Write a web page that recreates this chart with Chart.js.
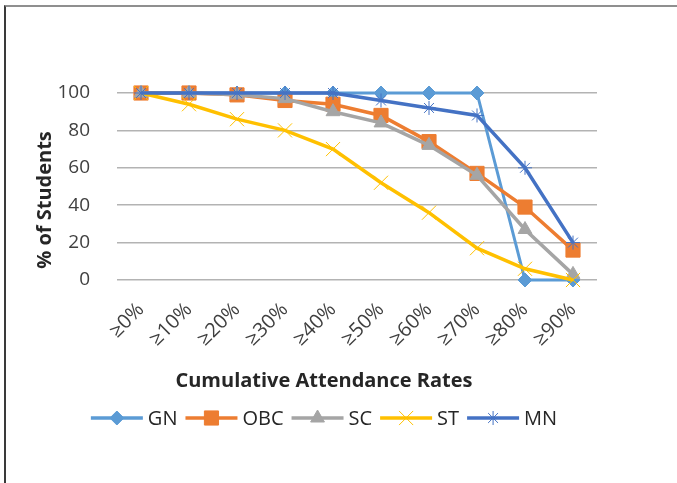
<!DOCTYPE html>
<html>
<head>
<meta charset="utf-8">
<script src="https://cdn.jsdelivr.net/npm/chart.js@4"></script>
<style>
  body { margin: 0; background: #fff; }
  #wrap { position: relative; width: 677px; height: 483px; overflow: hidden; }
  #frame { position: absolute; left: 4px; top: 5px; width: 700px; height: 500px;
           border-top: 2px solid #8f8f8f; border-left: 2px solid #3a3a3a; }
  canvas { position: absolute; left: 0; top: 0; }
</style>
</head>
<body>
<div id="wrap">
  <div id="frame"></div>
  <canvas id="chart" width="677" height="483"></canvas>
</div>
<script>
// categories
const labels = ["≥0%", "≥10%", "≥20%", "≥30%", "≥40%", "≥50%", "≥60%", "≥70%", "≥80%", "≥90%"];

// % of students per group
const gn  = [100, 100, 100, 100, 100, 100, 100, 100, 0, 0];
const obc = [100, 100, 99, 96, 94, 88, 74, 57, 39, 16];
const sc  = [100, 100, 99, 97, 90, 84, 72, 56, 27, 3];
const st  = [100, 94, 86, 80, 70, 52, 36, 17, 6, 0];
const mn  = [100, 100, 100, 100, 100, 96, 92, 88, 60, 20];

const yTicks = [0, 20, 40, 60, 80, 100];

const xTitle = "Cumulative Attendance Rates";
const yTitle = "% of Students";

function series(label, data, color, style, radius, order, extra) {
  return Object.assign({
    label: label,
    data: data,
    borderColor: color,
    backgroundColor: color,
    pointBackgroundColor: color,
    pointBorderColor: color,
    pointStyle: style,
    pointRadius: radius,
    pointHoverRadius: radius,
    pointBorderWidth: 1,
    borderWidth: 3.5,
    tension: 0,
    clip: false,
    order: order
  }, extra || {});
}

// titles + line/marker legend like the original
const overlay = {
  id: 'overlay',
  afterDraw(chart) {
    const ctx = chart.ctx;
    ctx.save();
    ctx.fillStyle = '#262626';
    ctx.textBaseline = 'middle';

    ctx.font = 'bold 20px "Open Sans"';
    ctx.textAlign = 'center';
    ctx.fillText(xTitle, 324, 381);
    ctx.save();
    ctx.translate(45, 200);
    ctx.rotate(-Math.PI / 2);
    ctx.fillText(yTitle, 0, 0);
    ctx.restore();

    // legend
    ctx.font = '20px "Open Sans"';
    ctx.textAlign = 'left';
    const lineLen = 52, gapText = 5, gapItem = 8;
    const sets = chart.data.datasets;
    let total = 0;
    sets.forEach((d, i) => {
      total += lineLen + gapText + ctx.measureText(d.label).width + (i < sets.length - 1 ? gapItem : 0);
    });
    let x = 324 - total / 2;
    const y = 418;
    sets.forEach((d) => {
      ctx.strokeStyle = d.borderColor;
      ctx.lineWidth = 3.5;
      ctx.beginPath();
      ctx.moveTo(x, y);
      ctx.lineTo(x + lineLen, y);
      ctx.stroke();
      ctx.fillStyle = d.pointBackgroundColor;
      ctx.strokeStyle = d.pointBorderColor;
      ctx.lineWidth = d.pointBorderWidth;
      Chart.helpers.drawPoint(ctx, { pointStyle: d.pointStyle, radius: d.pointRadius, rotation: 0, borderWidth: d.pointBorderWidth }, x + lineLen / 2, y);
      ctx.fillStyle = '#262626';
      ctx.fillText(d.label, x + lineLen + gapText, y + 1);
      x += lineLen + gapText + ctx.measureText(d.label).width + gapItem;
    });
    ctx.restore();
  }
};

new Chart(document.getElementById('chart').getContext('2d'), {
  type: 'line',
  data: {
    labels: labels,
    datasets: [
      series('GN', gn, '#5B9BD5', 'rectRot', 7, 5, { borderWidth: 3 }),
      series('OBC', obc, '#ED7D31', 'rect', 10, 4),
      series('SC', sc, '#A5A5A5', 'triangle', 8, 3),
      series('ST', st, '#FFC000', 'crossRot', 10, 2),
      series('MN', mn, '#4472C4', 'star', 7, 1)
    ]
  },
  options: {
    responsive: false,
    animation: false,
    layout: { padding: { left: 0, top: 93, right: 80, bottom: 0 } },
    plugins: {
      legend: { display: false },
      tooltip: { enabled: false }
    },
    scales: {
      x: {
        offset: true,
        grid: { display: false, offset: true },
        border: { display: false },
        afterFit: (s) => { s.height = 203; },
        ticks: {
          autoSkip: false,
          minRotation: 45,
          maxRotation: 45,
          padding: 10,
          color: '#404040',
          font: { family: 'Open Sans', size: 20 }
        }
      },
      y: {
        min: 0,
        max: 100,
        afterFit: (s) => { s.width = 117; },
        afterBuildTicks: (s) => { s.ticks = yTicks.map(v => ({ value: v })); },
        grid: { color: '#b3b3b3', lineWidth: 1.5, drawTicks: false },
        border: { display: false },
        ticks: {
          padding: 27,
          color: '#404040',
          font: { family: 'Open Sans', size: 19 }
        }
      }
    }
  },
  plugins: [overlay]
});
</script>
</body>
</html>
